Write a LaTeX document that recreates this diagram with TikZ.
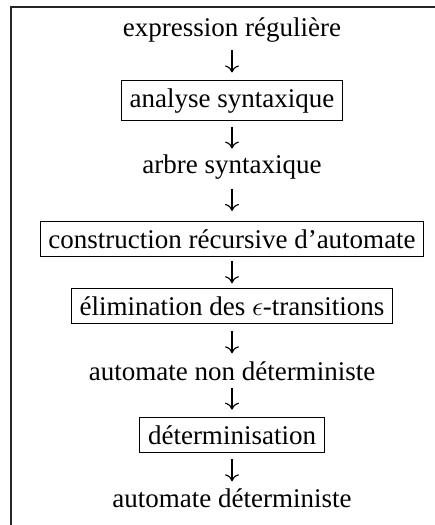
\documentclass[tikz,border=0pt]{standalone}
\usepackage{fontspec}
\setmainfont{Liberation Serif}
\usetikzlibrary{arrows.meta,calc}
\tikzset{
  lbl/.style={inner sep=0pt, outer sep=0pt, anchor=base},
  stage/.style={draw, line width=0.4pt, inner sep=3pt, outer sep=0pt, anchor=base},
  flow/.style={-{To[length=2.6pt,width=5.2pt]}, line width=0.42pt},
  frame/.style={line width=0.45pt, draw=black!85},
}
% vertical arrow centred in the gap between two stacked nodes
\newcommand\flowarrow[2]{%
  \draw[flow] ($(#1.south)!0.5!(#2.north)$) ++(0,-11) -- ++(0,22);}
\begin{document}
\begin{tikzpicture}[x=0.37037pt, y=-0.37037pt, font=\fontsize{10}{12}\selectfont]
  \useasboundingbox (0,0) rectangle (435,525);
  % open frame: top and left sides only
  \draw[frame] (11,525) -- (11,7) -- (435,7);

  \node[lbl]   (er)  at (232,37)  {expression régulière};
  \node[stage] (as)  at (232,107) {analyse syntaxique};
  \node[lbl]   (ab)  at (232,173) {arbre syntaxique};
  \node[stage] (cr)  at (232,248) {construction récursive d’automate};
  \node[stage] (el)  at (232,315) {élimination des $\epsilon$-transitions};
  \node[lbl]   (and) at (232,380) {automate non déterministe};
  \node[stage] (det) at (232,444) {déterminisation};
  \node[lbl]   (ad)  at (232,507) {automate déterministe};

  \flowarrow{er}{as}
  \flowarrow{as}{ab}
  \flowarrow{ab}{cr}
  \flowarrow{cr}{el}
  \flowarrow{el}{and}
  \flowarrow{and}{det}
  \flowarrow{det}{ad}
\end{tikzpicture}
\end{document}
